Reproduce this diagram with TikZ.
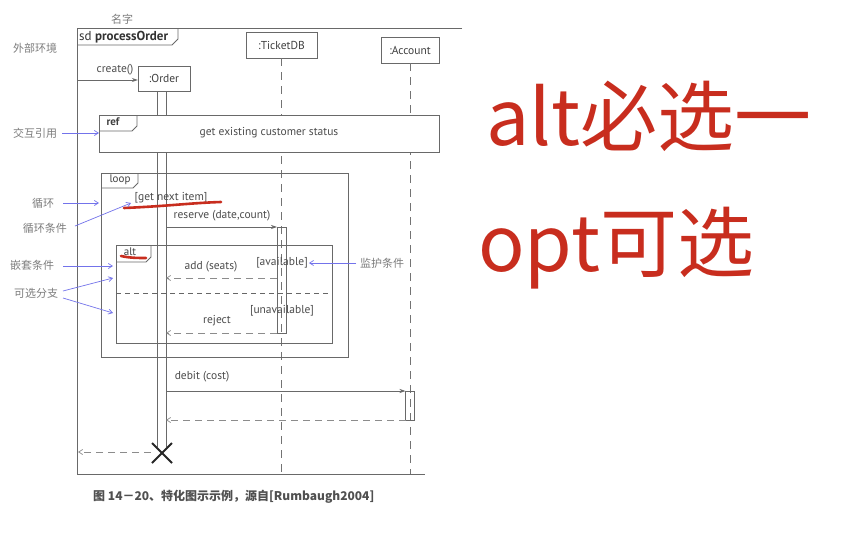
\documentclass[tikz,border=0pt]{standalone}
\usepackage{fontspec}
\setmainfont{PT Sans}
\newfontfamily\cjk{Noto Sans CJK SC}
\usetikzlibrary{arrows.meta,calc}
\definecolor{frm}{RGB}{105,105,105}
\definecolor{note}{RGB}{125,125,125}
\definecolor{blu}{RGB}{115,115,235}
\definecolor{hand}{RGB}{200,45,30}
\definecolor{capc}{RGB}{80,80,80}
\tikzset{
  objbox/.style={draw=frm, fill=white, inner sep=0pt, text=black!75, font=\fontsize{11.5}{13}\selectfont},
  frameline/.style={draw=frm, line width=0.8pt},
  lbl/.style={text=black!70, font=\fontsize{11.5}{13}\selectfont, inner sep=1pt},
  tablbl/.style={text=black!75, font=\fontsize{11}{13}\selectfont, inner sep=0pt},
  msg/.style={draw=frm, line width=0.7pt, -{Stealth[length=6pt,width=4pt]}},
  ret/.style={draw=black!45, line width=0.7pt, dash pattern=on 7pt off 5pt, -{Straight Barb[length=4pt,width=5pt]}},
  lifeline/.style={draw=black!55, line width=0.8pt, dash pattern=on 8pt off 6pt},
  actbar/.style={draw=frm, line width=0.7pt},
  cnote/.style={text=note, font=\cjk\fontsize{11}{13}\selectfont, inner sep=0pt},
  annot/.style={draw=blu, line width=0.7pt, -{Straight Barb[length=4pt,width=5pt]}},
  redmark/.style={draw=hand, line width=2.6pt, line cap=round},
  handtext/.style={text=hand, font=\cjk\fontsize{77}{84}\selectfont, inner sep=0pt, anchor=west}
}
\begin{document}
\begin{tikzpicture}[x=1pt,y=-1pt]
\useasboundingbox (0,0) rectangle (844,538);
\fill[white] (0,0) rectangle (844,538);

% outer frame (open on the right)
\draw[frameline] (462,28) -- (77,28) -- (77,474) -- (425,474);
\draw[frameline] (77,45) -- (172,45) -- (178,39) -- (178,28);
\node[anchor=west, inner sep=0pt, text=black!80, font=\fontsize{13}{15}\selectfont] (sdlbl) at (79,37) {sd \textbf{processOrder}};

% lifeline heads
\node[objbox, minimum width=52pt, minimum height=25pt] (order) at (164,78.5) {:Order};
\node[objbox, minimum width=71pt, minimum height=26pt] (tdb) at (281.5,45) {:TicketDB};
\node[objbox, minimum width=58pt, minimum height=26pt] (acc) at (410,50) {:Account};

% lifelines
\coordinate (tdbend) at (281.5,474);
\coordinate (accend) at (410,474);
\draw[lifeline] (tdb.south) -- (tdbend);
\draw[lifeline] (acc.south) -- (accend);
\coordinate (ordL) at (157,91);
\coordinate (ordR) at (166,91);
\coordinate (ordLend) at (157,447);
\coordinate (ordRend) at (166,447);
\draw[actbar] (ordL) -- (ordLend);
\draw[actbar] (ordR) -- (ordRend);

% activation bars
\draw[actbar] (277,227) rectangle (286,333);
\draw[actbar] (405.5,391) rectangle (414.5,420);

% ref fragment (opaque)
\draw[frameline, fill=white] (99,115) rectangle (439,152);
\draw[frameline] (99,131) -- (132,131) -- (137,126) -- (137,115);
\node[tablbl, font=\bfseries\fontsize{11}{13}\selectfont] (reflbl) at (113,122) {ref};
\node[lbl] (reftext) at (269,133) {get existing customer status};

% loop fragment
\draw[frameline] (101,173) rectangle (348,357);
\draw[frameline] (101,188) -- (133,188) -- (138,183) -- (138,173);
\node[tablbl] (looplbl) at (120,180) {loop};
\node[lbl] (loopcond) at (171,198) {[get next item]};

% alt fragment
\draw[frameline] (116,245) rectangle (332,343);
\draw[frameline] (116,262) -- (146,262) -- (151,257) -- (151,245);
\node[tablbl] (altlbl) at (130,252) {alt};
\draw[draw=black!60, line width=0.8pt, dash pattern=on 5pt off 4pt] (116,293) -- (332,293);
\node[lbl] (avail) at (282,263) {[available]};
\node[lbl] (unavail) at (282,311) {[unavailable]};

% messages
\coordinate (cstart) at (77,80);
\draw[msg] (cstart) -- (cstart -| order.west);
\node[lbl] (createlbl) at (115,70) {create()};

\coordinate (rs) at (166,227);
\coordinate (re) at (277,227);
\draw[msg] (rs) -- (re);
\node[lbl] (reservelbl) at (222,216) {reserve (date,count)};

\coordinate (as) at (277,278);
\coordinate (ae) at (166,278);
\draw[ret] (as) -- (ae);
\node[lbl] (addlbl) at (211,267) {add (seats)};

\coordinate (js) at (277,333);
\coordinate (je) at (166,333);
\draw[ret] (js) -- (je);
\node[lbl] (rejectlbl) at (217,321) {reject};

\coordinate (ds) at (166,391);
\coordinate (de) at (405.5,391);
\draw[msg] (ds) -- (de);
\node[lbl] (debitlbl) at (202,377) {debit (cost)};

\coordinate (bs) at (405.5,420);
\coordinate (be) at (166,420);
\draw[ret] (bs) -- (be);

% destruction
\coordinate (xc) at (162,453);
\draw[line width=2pt, black!85] ($(xc)+(-10,-10)$) -- ($(xc)+(10,10)$);
\draw[line width=2pt, black!85] ($(xc)+(-10,10)$) -- ($(xc)+(10,-10)$);
\coordinate (xs) at (151,452);
\coordinate (xe) at (78,452);
\draw[ret] (xs) -- (xe);

% red pen marks
\draw[redmark] (124,208) .. controls (170,206) and (190,203) .. (221,202);
\draw[redmark] (121,256) .. controls (130,258) and (138,258) .. (146,258);

% annotations
\node[cnote] (mingzi) at (122,19) {名字};
\node[cnote] (waibu) at (35,48) {外部环境};
\node[cnote] (jiaohu) at (35,133) {交互引用};
\coordinate (jiaohuT) at (99,133);
\draw[annot] (62,133) -- (jiaohuT);
\node[cnote] (xunhuan) at (43,203) {循环};
\draw[annot] (63,203) -- (99,203);
\node[cnote] (xhtj) at (45,228) {循环条件};
\draw[annot] (75,226) -- (131,203);
\node[cnote] (qiantao) at (32,265) {嵌套条件};
\draw[annot] (63,266) -- (113,266);
\node[cnote] (kexuan) at (36,293) {可选分支};
\draw[annot] (63,291) -- (113,278);
\draw[annot] (63,298) -- (113,313);
\node[cnote] (jianhu) at (382,263) {监护条件};
\draw[annot] (356,263) -- (avail.east);

% caption
\node[inner sep=0pt, text=capc, font=\cjk\bfseries\fontsize{12}{14}\selectfont, anchor=west] (caption) at (93,497) {图 14－20、特化图示示例，源自[Rumbaugh2004]};

% handwriting
\node[handtext] (hand1) at (486,116) {alt必选一};
\node[handtext] (hand2) at (478,248) {opt可选};
\end{tikzpicture}
\end{document}
